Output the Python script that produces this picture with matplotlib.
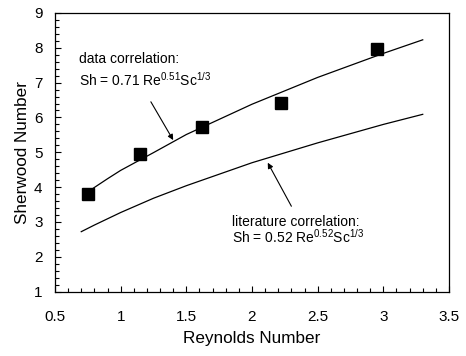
"""Sherwood number vs Reynolds number: measured points and two correlations."""
import matplotlib
matplotlib.use("Agg")
import matplotlib.pyplot as plt
from matplotlib.ticker import MultipleLocator

plt.rcParams.update({
    "font.family": ["Liberation Sans", "DejaVu Sans"],
    "mathtext.fontset": "custom",
    "mathtext.rm": "Liberation Sans",
    "mathtext.default": "regular",
})

# measured points
re_data = [0.75, 1.15, 1.62, 2.22, 2.95]
sh_data = [3.80, 4.95, 5.73, 6.41, 7.98]

# data correlation curve
re_fit = [0.73, 0.8, 0.9, 1.0, 1.25, 1.5, 2.0, 2.5, 3.0, 3.3]
sh_fit = [3.80, 3.99, 4.24, 4.48, 4.99, 5.51, 6.38, 7.15, 7.84, 8.23]

# literature correlation curve
re_lit = [0.70, 0.8, 0.9, 1.0, 1.25, 1.5, 2.0, 2.5, 3.0, 3.3]
sh_lit = [2.72, 2.91, 3.09, 3.27, 3.68, 4.04, 4.70, 5.27, 5.80, 6.09]

fig = plt.figure(figsize=(4.66, 3.56), dpi=100)
ax = fig.add_axes([0.118, 0.181, 0.8455, 0.7825])

ax.plot(re_fit, sh_fit, color="black", lw=0.9)
ax.plot(re_lit, sh_lit, color="black", lw=0.9)
ax.plot(re_data, sh_data, ls="none", marker="s", ms=8, color="black")

ax.set_xlim(0.5, 3.5)
ax.set_ylim(1, 9)
ax.xaxis.set_minor_locator(MultipleLocator(0.1))
ax.yaxis.set_major_locator(MultipleLocator(1))
ax.yaxis.set_minor_locator(MultipleLocator(0.2))
ax.set_xticks([0.5, 1, 1.5, 2, 2.5, 3, 3.5], ["0.5", "1", "1.5", "2", "2.5", "3", "3.5"])
ax.tick_params(which="both", direction="in", top=False, right=False, labelsize=11)
ax.tick_params(which="major", length=4, width=0.8)
ax.tick_params(which="minor", length=3, width=0.8)
ax.tick_params(axis="x", which="major", pad=13)
ax.tick_params(axis="y", which="major", pad=9)
for s in ax.spines.values():
    s.set_linewidth(0.9)

ax.set_xlabel("Reynolds Number", fontsize=12.3, labelpad=5)
ax.set_ylabel("Sherwood Number", fontsize=12.3, labelpad=3)

ax.text(0.683, 7.55, "data correlation:", fontsize=10)
ax.text(0.683, 6.91, r"Sh = 0.71 Re$^{0.51}$Sc$^{1/3}$", fontsize=10)
ax.annotate("", xy=(1.40, 5.35), xytext=(1.23, 6.45),
            arrowprops=dict(arrowstyle="-|>", color="black", lw=0.8,
                            mutation_scale=8, shrinkA=0, shrinkB=0))

ax.text(1.85, 2.88, "literature correlation:", fontsize=10)
ax.text(1.85, 2.40, r"Sh = 0.52 Re$^{0.52}$Sc$^{1/3}$", fontsize=10)
ax.annotate("", xy=(2.12, 4.70), xytext=(2.30, 3.45),
            arrowprops=dict(arrowstyle="-|>", color="black", lw=0.8,
                            mutation_scale=8, shrinkA=0, shrinkB=0))

fig.savefig("out.png", dpi=100)
